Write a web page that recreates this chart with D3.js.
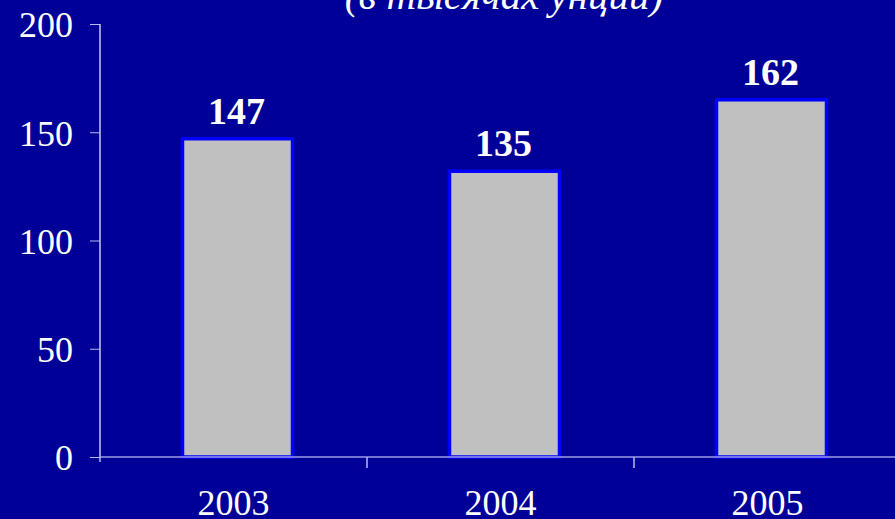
<!DOCTYPE html>
<html>
<head>
<meta charset="utf-8">
<script src="https://cdn.jsdelivr.net/npm/d3@7"></script>
<style>
	html, body { margin: 0; padding: 0; background: #000099; }
	svg { display: block; }
	text { font-family: "Liberation Serif", "Times New Roman", serif; fill: #ffffff; }
</style>
</head>
<body>
<svg></svg>
<script>
// chart data
var years = ["2003", "2004", "2005"];
var barValues = [147, 132, 165];       // bar heights as drawn
var valueLabels = ["147", "135", "162"]; // numbers printed above bars
var yTicks = [0, 50, 100, 150, 200];
var subtitle = "(в тысячах унций)";

var width = 895,
	height = 519;

var svg = d3.select("svg")
	.attr("width", width)
	.attr("height", height);

svg.append("rect")
	.attr("width", width)
	.attr("height", height)
	.attr("fill", "#000099");

// scales
var scaleX = d3.scaleBand()
	.domain(years)
	.range([100, 901]);

var scaleY = d3.scaleLinear()
	.domain([0, 200])
	.range([457, 24]);

// subtitle (top of it is cut off)
svg.append("text")
	.attr("x", 504)
	.attr("y", 9)
	.style("text-anchor", "middle")
	.style("font-style", "italic")
	.style("font-size", "41px")
	.text(subtitle);

// y axis
var yAxis = svg.append("g")
	.attr("transform", "translate(100,0)")
	.call(d3.axisLeft(scaleY).tickValues(yTicks).tickSize(10).tickPadding(17));
yAxis.select(".domain").remove();
yAxis.selectAll(".tick line").attr("stroke", "#b8b8f0");
yAxis.selectAll("text")
	.attr("dy", "0.36em")
	.style("font-size", "36px")
	.style("font-family", "'Liberation Serif', serif")
	.attr("fill", "#ffffff");

svg.append("line")
	.attr("x1", 100).attr("x2", 100)
	.attr("y1", scaleY(200)).attr("y2", scaleY(0))
	.attr("stroke", "#c8c8f4")
	.attr("stroke-width", 1.5);

// bars
var bw = 110;
svg.selectAll(".bar")
	.data(years)
	.enter()
	.append("rect")
	.attr("class", "bar")
	.attr("x", function(d) { return scaleX(d) + scaleX.bandwidth() / 2 - bw / 2 + 4; })
	.attr("y", function(d, i) { return scaleY(barValues[i]); })
	.attr("width", bw)
	.attr("height", function(d, i) { return scaleY(0) - scaleY(barValues[i]); })
	.attr("fill", "#c0c0c0")
	.attr("stroke", "#0000ff")
	.attr("stroke-width", 3.5);

// x axis
var xAxis = svg.append("g")
	.attr("transform", "translate(0," + scaleY(0) + ")")
	.call(d3.axisBottom(scaleX).tickSize(0));
xAxis.select(".domain").remove();
xAxis.selectAll("text")
	.attr("y", 58)
	.attr("dy", 0)
	.style("font-size", "36px")
	.style("font-family", "'Liberation Serif', serif")
	.attr("fill", "#ffffff");

svg.append("line")
	.attr("x1", 100).attr("x2", width)
	.attr("y1", scaleY(0)).attr("y2", scaleY(0))
	.attr("stroke", "#9c9ce4")
	.attr("stroke-width", 1.5);

// category boundary ticks
svg.selectAll(".xtick")
	.data(years)
	.enter()
	.append("line")
	.attr("class", "xtick")
	.attr("x1", function(d) { return scaleX(d); })
	.attr("x2", function(d) { return scaleX(d); })
	.attr("y1", scaleY(0))
	.attr("y2", function(d, i) { return scaleY(0) + (i == 0 ? 5 : 11); })
	.attr("stroke", "#b8b8f0")
	.attr("stroke-width", 1.5);

// value labels
svg.selectAll(".val")
	.data(years)
	.enter()
	.append("text")
	.attr("class", "val")
	.attr("x", function(d) { return scaleX(d) + scaleX.bandwidth() / 2 + 3; })
	.attr("y", function(d, i) { return scaleY(barValues[i]) - 15; })
	.style("text-anchor", "middle")
	.style("font-weight", "bold")
	.style("font-size", "38px")
	.text(function(d, i) { return valueLabels[i]; });
</script>
</body>
</html>
